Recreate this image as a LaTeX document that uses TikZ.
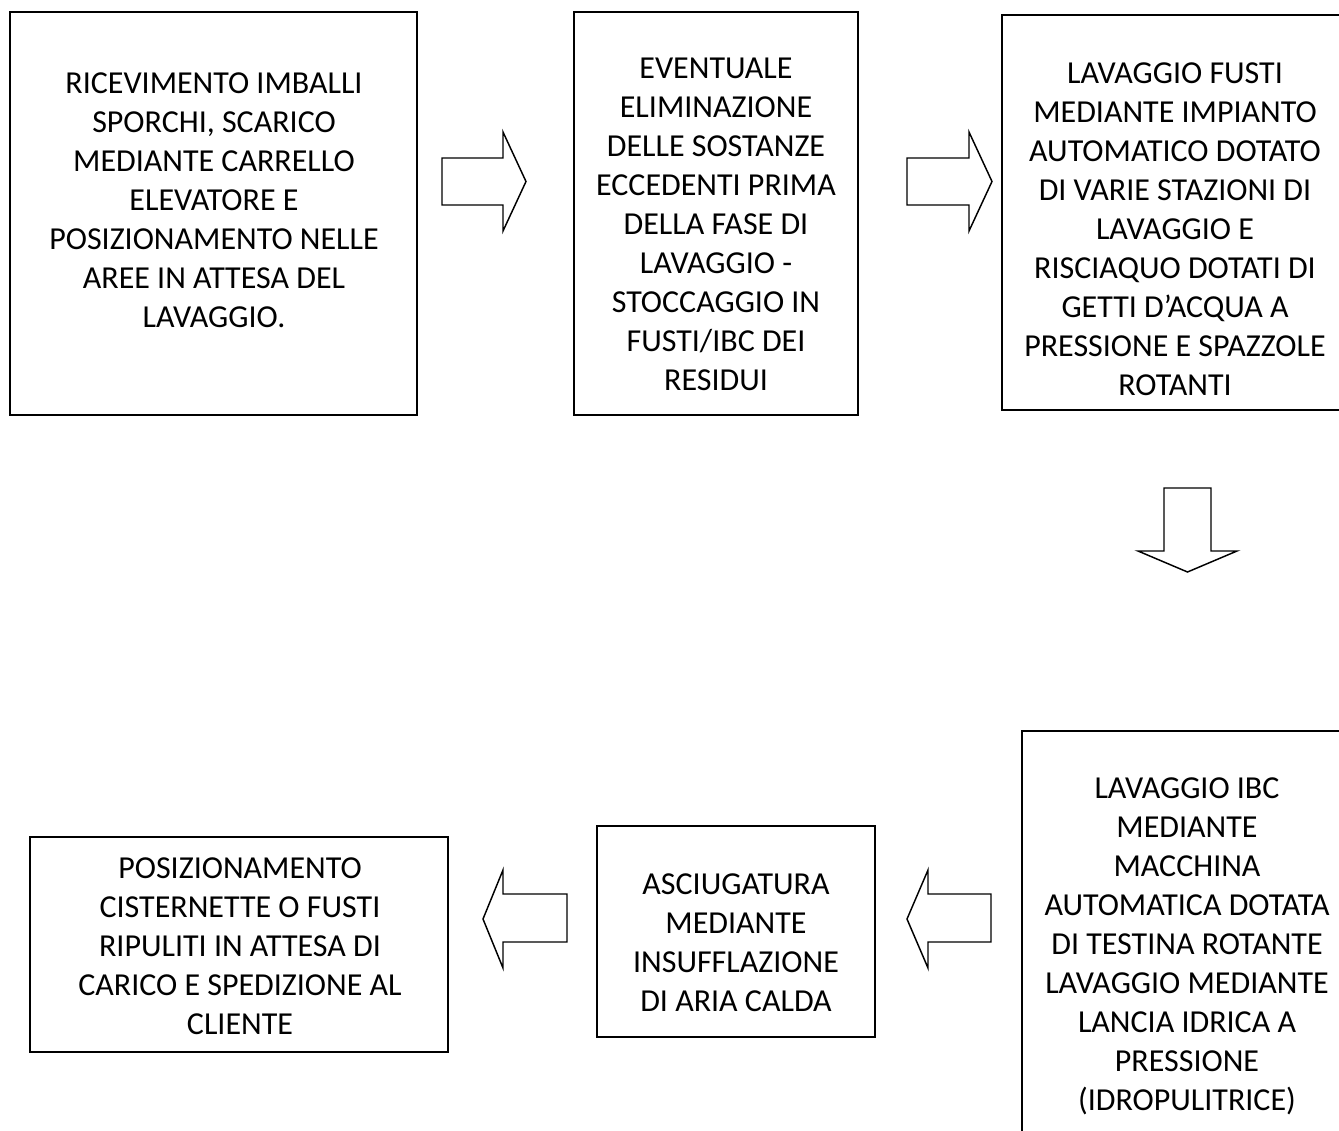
\documentclass[tikz,border=0pt]{standalone}
\usepackage{fontspec}
\setmainfont{Carlito}
\usetikzlibrary{fit}
\begin{document}
\begin{tikzpicture}[x=0.75pt,y=-0.75pt,
  boxline/.style={draw=black,line width=1.2pt,inner sep=0pt,fill=none},
  txt/.style={align=center,inner sep=0pt,anchor=north,font=\fontsize{24pt}{29.25pt}\selectfont},
  blockarrow/.style={draw=black,line width=1.1pt,line join=miter,fill=white}]
\clip (0,0) rectangle (1339,1131);
\fill[white] (0,0) rectangle (1339,1131);
% boxes
\node[boxline,fit={(10,12) (417,415)}] (b1) {};
\node[boxline,fit={(574,12) (858,415)}] (b2) {};
\node[boxline,fit={(1002,15) (1348,410)}] (b3) {};
\node[boxline,fit={(1022,731) (1352,1170)}] (b4) {};
\node[boxline,fit={(597,826) (875,1037)}] (b5) {};
\node[boxline,fit={(30,837) (448,1052)}] (b6) {};
% texts
\node[txt] (t1) at (214,72) {RICEVIMENTO IMBALLI\\SPORCHI, SCARICO\\MEDIANTE CARRELLO\\ELEVATORE E\\POSIZIONAMENTO NELLE\\AREE IN ATTESA DEL\\LAVAGGIO.};
\node[txt] (t2) at (716,58) {EVENTUALE\\ELIMINAZIONE\\DELLE SOSTANZE\\ECCEDENTI PRIMA\\DELLA FASE DI\\LAVAGGIO -\\STOCCAGGIO IN\\FUSTI/IBC DEI\\RESIDUI};
\node[txt] (t3) at (1175,62) {LAVAGGIO FUSTI\\MEDIANTE IMPIANTO\\AUTOMATICO DOTATO\\DI VARIE STAZIONI DI\\LAVAGGIO E\\RISCIAQUO DOTATI DI\\GETTI D’ACQUA A\\PRESSIONE E SPAZZOLE\\ROTANTI};
\node[txt] (t4) at (1187,777) {LAVAGGIO IBC\\MEDIANTE\\MACCHINA\\AUTOMATICA DOTATA\\DI TESTINA ROTANTE\\LAVAGGIO MEDIANTE\\LANCIA IDRICA A\\PRESSIONE\\(IDROPULITRICE)};
\node[txt] (t5) at (736,873) {ASCIUGATURA\\MEDIANTE\\INSUFFLAZIONE\\DI ARIA CALDA};
\node[txt] (t6) at (240,857) {POSIZIONAMENTO\\CISTERNETTE O FUSTI\\RIPULITI IN ATTESA DI\\CARICO E SPEDIZIONE AL\\CLIENTE};
% block arrows
\draw[blockarrow] (442,158) -- (503,158) -- (503,132) -- (526,181.5) -- (503,231) -- (503,205) -- (442,205) -- cycle;
\draw[blockarrow] (907,158) -- (969,158) -- (969,132) -- (992,181.5) -- (969,231) -- (969,205) -- (907,205) -- cycle;
\draw[blockarrow] (1164,488) -- (1211,488) -- (1211,551) -- (1237,551) -- (1187.5,572) -- (1138,551) -- (1164,551) -- cycle;
\draw[blockarrow] (567,894) -- (503,894) -- (503,870) -- (483,919) -- (503,968) -- (503,942) -- (567,942) -- cycle;
\draw[blockarrow] (991,894) -- (928,894) -- (928,870) -- (907,919) -- (928,968) -- (928,942) -- (991,942) -- cycle;
\end{tikzpicture}
\end{document}
